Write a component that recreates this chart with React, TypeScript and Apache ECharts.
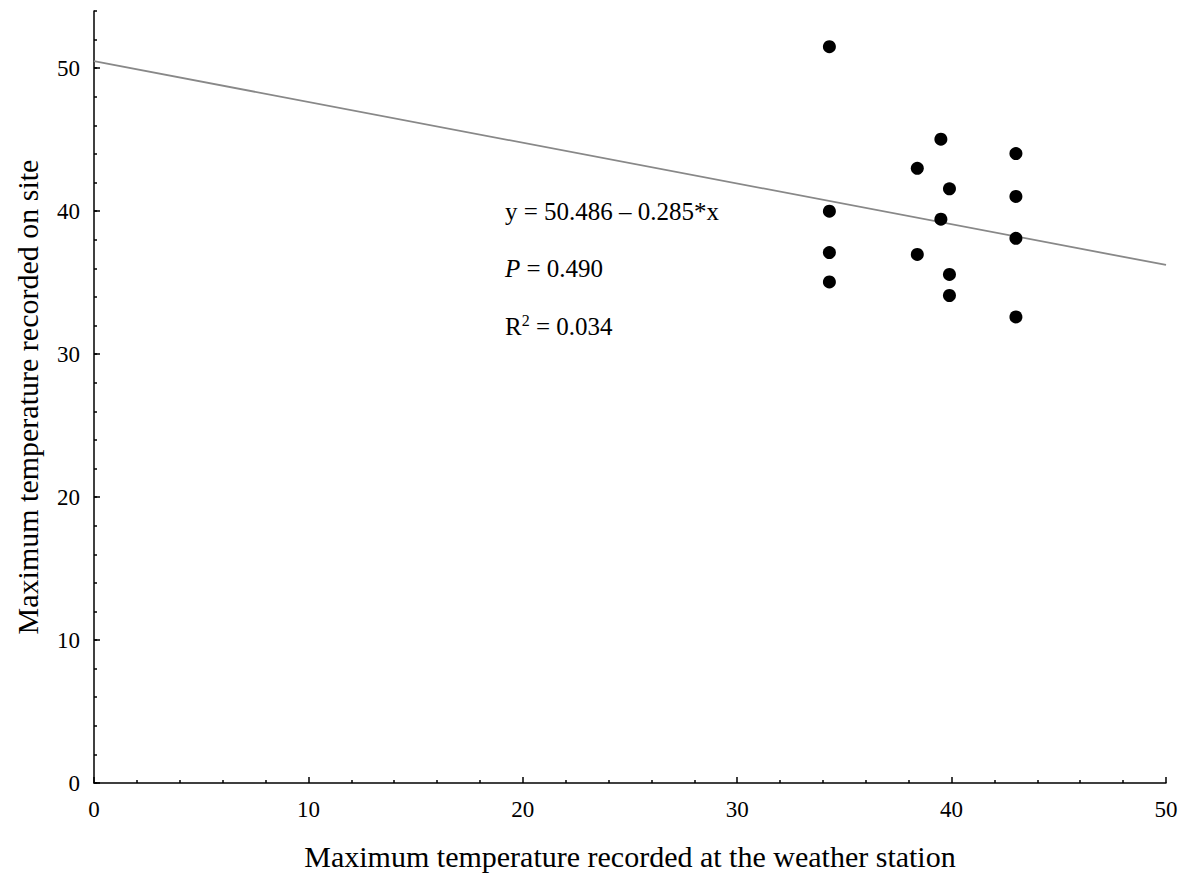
import React, { useEffect, useRef } from "react";
import * as echarts from "echarts";

const stationTemp = [34.3, 34.3, 34.3, 34.3, 38.4, 38.4, 39.5, 39.5, 39.9, 39.9, 39.9, 43.0, 43.0, 43.0, 43.0];
const siteTemp = [51.5, 40.0, 37.1, 35.05, 43.0, 36.97, 45.03, 39.44, 41.56, 35.57, 34.1, 44.03, 41.03, 38.1, 32.6];
const intercept = 50.486;
const slope = -0.285;
const xRange = [0, 50];
const majorTicksY = [0, 10, 20, 30, 40, 50];
const annotations = ["y = 50.486 – 0.285*x", "{i|P} = 0.490", "R{sup|2} = 0.034"];

const FONT = "'Liberation Serif', 'Times New Roman', serif";

export default function App() {
  const ref = useRef<HTMLDivElement>(null);
  useEffect(() => {
    if (!ref.current) return;
    const chart = echarts.init(ref.current, null, { renderer: "svg" });
    const points = stationTemp.map((x, i) => [x, siteTemp[i]]);
    const fitLine = xRange.map((x) => [x, intercept + slope * x]);
    const labelStyle = { color: "#000", fontFamily: FONT, fontSize: 23 };
    chart.setOption({
      animation: false,
      backgroundColor: "#fff",
      grid: { left: 94, right: 23, top: 11, bottom: 91, containLabel: false, outerBoundsMode: "none" },
      xAxis: {
        type: "value",
        min: 0,
        max: 50,
        interval: 10,
        name: "Maximum temperature recorded at the weather station",
        nameLocation: "middle",
        nameGap: 58,
        nameTextStyle: { color: "#000", fontFamily: FONT, fontSize: 30 },
        axisLine: { show: true, lineStyle: { color: "#000", width: 1.5 } },
        axisTick: { show: true, inside: true, length: 6, lineStyle: { color: "#000", width: 1.5 } },
        minorTick: { show: true, splitNumber: 5, length: 3, lineStyle: { color: "#000", width: 1.5 } },
        axisLabel: { ...labelStyle, margin: 15 },
        splitLine: { show: false },
      },
      yAxis: [
        {
          type: "value",
          min: 0,
          max: 54,
          interval: 2,
          name: "Maximum temperature recorded on site",
          nameLocation: "middle",
          nameGap: 52,
          nameTextStyle: { color: "#000", fontFamily: FONT, fontSize: 30 },
          axisLine: { show: true, lineStyle: { color: "#000", width: 1.5 } },
          axisTick: { show: true, inside: true, length: 3, lineStyle: { color: "#000", width: 1.5 } },
          axisLabel: {
            ...labelStyle,
            margin: 14,
            formatter: (v: number) => (v % 10 === 0 && v <= 50 ? String(v) : ""),
          },
          splitLine: { show: false },
        },
        {
          type: "value",
          min: 0,
          max: 54,
          position: "left",
          offset: 0,
          axisLine: { show: false },
          axisTick: {
            show: true,
            inside: true,
            length: 6,
            customValues: majorTicksY,
            lineStyle: { color: "#000", width: 1.5 },
          },
          axisLabel: { show: false },
          splitLine: { show: false },
        },
      ],
      graphic: annotations.map((t, i) => ({
        type: "text",
        x: 505,
        y: 211 + i * 57.5,
        style: {
          text: t,
          fill: "#000",
          font: `25px ${FONT}`,
          verticalAlign: "middle",
          rich: {
            i: { fontStyle: "italic", fontSize: 25, fontFamily: FONT, fill: "#000" },
            sup: { fontSize: 16, fontFamily: FONT, verticalAlign: "top", padding: [0, 0, 12, 0], fill: "#000" },
          },
        },
      })),
      series: [
        {
          type: "line",
          data: fitLine,
          yAxisIndex: 0,
          showSymbol: false,
          symbol: "none",
          lineStyle: { color: "#888", width: 1.8 },
          z: 1,
        },
        {
          type: "scatter",
          data: points,
          yAxisIndex: 0,
          symbol: "circle",
          symbolSize: 13,
          itemStyle: { color: "#000", opacity: 1 },
          z: 2,
        },
      ],
    });
    return () => chart.dispose();
  }, []);
  return (
    <div
      ref={ref}
      style={{ position: "fixed", left: 0, top: 0, width: 1189, height: 874 }}
    />
  );
}
